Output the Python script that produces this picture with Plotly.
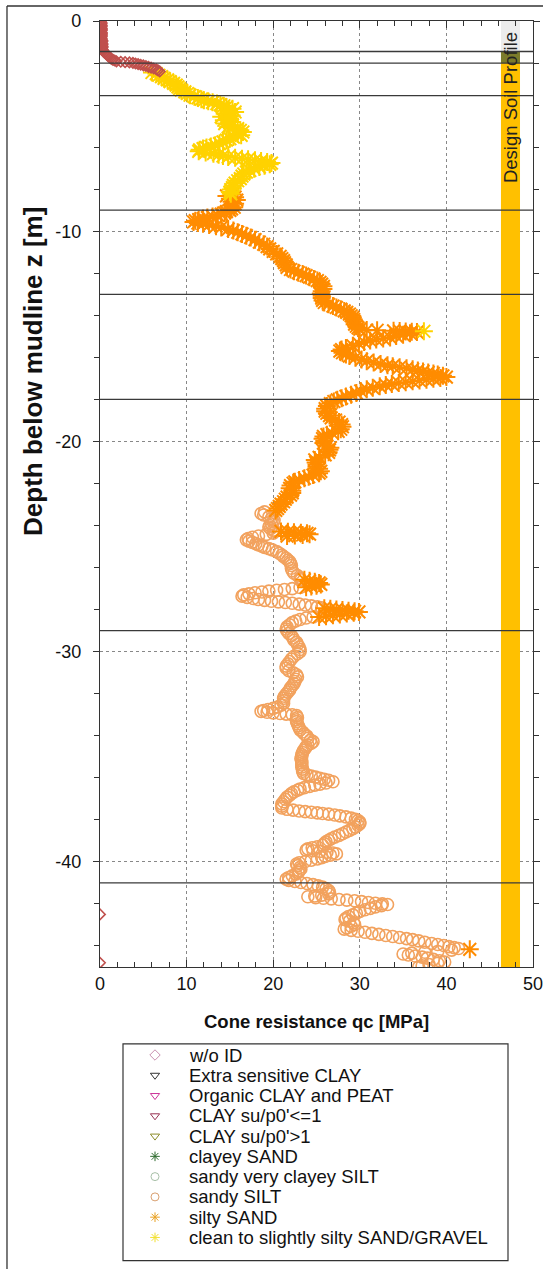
import plotly.graph_objects as go

FONT = "Arial, Liberation Sans, sans-serif"

# ---------------------------------------------------------------------------
# CPT record, split by soil behaviour class: (depth below mudline [m], qc [MPa])
# ---------------------------------------------------------------------------
wo_id = [
    (0.00, 0.1), (0.05, 0.1), (0.10, 0.2), (0.15, 0.1), (0.20, 0.2), (0.25, 0.2),
    (0.30, 0.1), (0.35, 0.2), (0.40, 0.2), (0.45, 0.2), (0.50, 0.1), (0.55, 0.2),
    (0.60, 0.2), (0.65, 0.2), (0.70, 0.2), (0.75, 0.2), (0.80, 0.1), (0.85, 0.2),
    (0.90, 0.2), (0.95, 0.3), (1.00, 0.2), (1.05, 0.2), (1.10, 0.3), (1.15, 0.2),
    (1.20, 0.3), (1.25, 0.3), (1.30, 0.2), (1.35, 0.3), (1.40, 0.3),
    (1.45, 0.4), (1.50, 0.5), (1.55, 0.7), (1.60, 0.8), (1.65, 0.9), (1.70, 1.0),
    (1.75, 1.2), (1.80, 1.3), (1.85, 1.5), (1.88, 1.7), (1.92, 1.9), (1.94, 2.4),
    (1.96, 2.9), (1.97, 3.4), (1.99, 3.8), (2.02, 4.1), (2.05, 4.4), (2.08, 4.7),
    (2.11, 5.0), (2.14, 5.3), (2.18, 5.6), (2.22, 5.9), (2.26, 6.2), (2.30, 6.5),
    (2.35, 6.7), (2.40, 6.9),
    (42.50, 0.0), (44.80, 0.0),
]

sand_gravel = [
    (2.45, 6.0), (2.50, 6.5), (2.58, 6.8), (2.65, 7.1), (2.73, 7.4), (2.80, 7.8),
    (2.88, 8.1), (2.97, 8.5), (3.05, 8.8), (3.13, 9.0), (3.21, 9.2), (3.29, 9.4),
    (3.37, 9.8), (3.45, 10.1), (3.53, 10.4), (3.60, 10.9), (3.66, 11.3), (3.72, 11.7),
    (3.77, 12.0), (3.82, 12.5), (3.87, 13.0), (3.93, 13.5), (3.98, 13.9), (4.03, 14.3),
    (4.09, 14.6), (4.17, 15.3), (4.25, 14.9), (4.33, 15.6), (4.41, 14.4), (4.49, 15.2),
    (4.56, 14.0), (4.64, 15.0), (4.72, 14.3), (4.80, 15.2), (4.88, 14.4), (4.96, 15.3),
    (5.04, 14.8), (5.12, 15.9), (5.20, 16.2), (5.28, 16.5), (5.36, 15.9), (5.44, 16.3),
    (5.52, 15.4), (5.60, 15.0), (5.67, 14.6), (5.75, 14.2), (5.83, 13.8), (5.91, 13.3),
    (5.97, 12.8), (6.02, 12.3), (6.07, 11.9), (6.13, 11.5), (6.20, 11.4), (6.25, 12.2),
    (6.31, 13.1), (6.36, 13.7), (6.42, 14.2), (6.47, 14.8), (6.51, 15.6), (6.55, 16.4),
    (6.58, 17.1), (6.62, 17.9), (6.66, 18.6), (6.71, 19.3), (6.76, 19.8), (6.82, 19.6),
    (6.88, 19.0), (6.95, 18.4), (7.03, 17.8), (7.11, 17.3), (7.19, 16.9), (7.28, 16.6),
    (7.38, 16.4), (7.50, 16.2), (7.60, 15.9), (7.71, 15.6), (7.82, 15.4), (7.92, 15.3),
    (8.02, 15.1), (8.14, 15.0), (8.22, 15.1),
    (14.76, 37.4),
]

silty_sand = [
    (8.25, 15.3), (8.32, 14.6), (8.38, 15.6), (8.45, 15.0), (8.52, 15.8), (8.60, 15.2),
    (8.69, 15.6), (8.78, 15.1), (8.86, 15.5), (8.94, 15.2), (9.01, 15.0), (9.07, 14.6),
    (9.13, 14.4), (9.19, 14.0), (9.25, 13.6), (9.30, 13.0), (9.35, 12.4), (9.40, 11.9),
    (9.45, 11.4), (9.50, 11.0), (9.56, 10.8), (9.61, 11.3), (9.65, 11.9), (9.70, 12.6),
    (9.76, 13.4), (9.82, 14.0), (9.90, 14.8), (9.97, 15.4), (10.05, 15.9), (10.13, 16.4),
    (10.21, 16.9), (10.30, 17.4), (10.40, 17.9), (10.52, 18.4), (10.62, 18.9), (10.73, 19.3),
    (10.84, 19.6), (10.96, 20.0), (11.08, 20.4), (11.20, 20.8), (11.30, 21.0), (11.40, 21.2),
    (11.50, 21.3), (11.60, 21.5), (11.72, 21.6), (11.82, 22.0), (11.90, 22.4), (11.97, 22.9),
    (12.04, 23.4), (12.11, 23.8), (12.19, 24.2), (12.27, 24.7), (12.35, 25.1), (12.43, 25.4),
    (12.52, 25.6), (12.62, 25.8), (12.75, 25.8), (12.85, 25.6), (12.96, 25.5), (13.07, 25.6),
    (13.18, 25.6), (13.29, 25.7), (13.39, 25.9), (13.48, 26.4), (13.56, 26.9), (13.63, 27.3),
    (13.71, 27.8), (13.79, 28.2), (13.86, 28.5), (13.94, 28.8), (14.02, 29.0), (14.10, 29.2),
    (14.20, 29.3), (14.30, 29.4), (14.42, 29.4), (14.52, 29.6), (14.60, 29.8), (14.66, 30.0),
    (14.70, 30.8), (14.71, 32.0), (14.74, 33.9), (14.75, 34.6), (14.77, 35.3), (14.78, 36.0),
    (14.80, 36.6), (14.85, 35.8), (14.92, 35.0), (14.98, 34.2), (15.05, 33.5), (15.10, 32.7),
    (15.15, 31.9), (15.20, 31.2), (15.27, 30.5), (15.35, 29.9), (15.45, 29.2), (15.55, 28.4),
    (15.63, 27.9), (15.70, 27.7), (15.78, 28.0), (15.86, 28.4), (15.94, 28.8), (16.02, 29.5),
    (16.10, 30.2), (16.18, 30.8), (16.25, 31.6), (16.32, 32.4), (16.38, 33.2), (16.42, 33.8),
    (16.47, 34.6), (16.52, 35.4), (16.57, 36.1), (16.62, 36.7), (16.67, 37.3), (16.72, 37.9),
    (16.77, 38.5), (16.82, 39.0), (16.88, 39.6), (16.94, 40.0), (16.98, 39.3), (17.02, 38.5),
    (17.06, 37.7), (17.10, 36.9), (17.14, 36.1), (17.18, 35.3), (17.22, 34.5), (17.27, 33.7),
    (17.32, 33.0), (17.38, 32.3), (17.45, 31.5), (17.52, 30.8), (17.60, 30.1), (17.69, 29.6),
    (17.78, 29.0), (17.86, 28.4), (17.94, 27.9), (18.02, 27.4), (18.10, 27.0), (18.20, 26.6),
    (18.32, 26.2), (18.44, 26.0), (18.56, 26.0), (18.66, 26.2), (18.77, 26.5), (18.88, 26.7),
    (18.98, 27.2), (19.08, 27.6), (19.20, 27.9), (19.30, 28.0), (19.42, 27.8), (19.52, 27.5),
    (19.60, 26.8), (19.68, 26.2), (19.76, 25.8), (19.87, 25.7), (19.98, 25.9), (20.08, 25.8),
    (20.18, 26.1), (20.30, 26.6), (20.40, 26.5), (20.52, 26.4), (20.64, 26.0), (20.76, 25.3),
    (20.88, 24.8), (21.00, 24.9), (21.10, 25.0), (21.20, 25.0), (21.30, 25.3), (21.42, 25.5),
    (21.51, 25.3), (21.60, 24.6), (21.68, 24.1), (21.75, 23.6), (21.83, 23.0), (21.92, 22.5),
    (21.99, 22.3), (22.10, 22.0), (22.23, 21.9), (22.35, 22.2), (22.45, 22.2), (22.55, 22.0),
    (22.65, 21.6), (22.75, 21.4), (22.87, 21.2), (22.98, 20.9), (23.09, 20.7), (23.19, 20.5),
    (23.28, 20.3),
    (24.28, 20.9), (24.30, 21.7), (24.32, 22.4), (24.34, 23.2), (24.37, 23.9), (24.41, 24.2),
    (24.45, 23.4), (24.48, 22.5), (24.50, 21.6),
    (26.58, 23.6), (26.63, 24.2), (26.68, 24.8), (26.73, 25.3), (26.80, 25.5), (26.86, 25.0),
    (26.90, 24.4), (26.94, 23.8),
    (27.93, 25.9), (27.96, 26.6), (27.99, 27.3), (28.02, 28.0), (28.05, 28.7), (28.08, 29.4),
    (28.11, 29.9), (28.15, 29.3), (28.19, 28.5), (28.23, 27.7), (28.27, 26.9), (28.31, 26.1),
    (28.35, 25.3),
    (44.16, 42.7),
]

sandy_silt = [
    (23.35, 19.0), (23.43, 18.6), (23.50, 18.9), (23.59, 19.5), (23.67, 19.8), (23.75, 20.1),
    (23.83, 20.0), (23.92, 19.8), (24.00, 19.6), (24.07, 19.5), (24.15, 19.7), (24.22, 20.0),
    (24.28, 20.2), (24.36, 20.0), (24.42, 19.2), (24.50, 18.3), (24.56, 17.6), (24.62, 17.1),
    (24.68, 16.9), (24.74, 17.2), (24.80, 17.6), (24.86, 18.0), (24.92, 18.3), (24.98, 18.7),
    (25.04, 19.0), (25.10, 19.5), (25.16, 19.9), (25.24, 20.4), (25.32, 20.7), (25.40, 21.0),
    (25.48, 21.2), (25.56, 21.5), (25.64, 21.7), (25.71, 21.9), (25.80, 22.0), (25.90, 22.1),
    (26.03, 22.1), (26.15, 22.2), (26.27, 22.4), (26.38, 22.8), (26.50, 23.1), (26.58, 23.2),
    (26.95, 23.1), (27.00, 22.2), (27.04, 21.3), (27.08, 20.4), (27.12, 19.5), (27.16, 18.7),
    (27.20, 17.9), (27.25, 17.2), (27.30, 16.6), (27.36, 16.4), (27.42, 17.0), (27.47, 17.7),
    (27.52, 18.3), (27.56, 19.0), (27.60, 19.8), (27.63, 20.6), (27.66, 21.4), (27.70, 22.2),
    (27.74, 23.0), (27.78, 23.7), (27.82, 24.4), (27.87, 25.1), (27.91, 25.6),
    (28.35, 24.6), (28.40, 23.8), (28.47, 23.1), (28.54, 22.6), (28.62, 22.2), (28.72, 21.9),
    (28.82, 21.6), (28.92, 21.5), (29.02, 21.6), (29.13, 21.8), (29.24, 22.1), (29.35, 22.3),
    (29.46, 22.4), (29.56, 22.7), (29.66, 22.8), (29.78, 23.0), (29.90, 23.1), (30.00, 23.1),
    (30.10, 22.8), (30.22, 22.4), (30.35, 22.1), (30.47, 21.9), (30.58, 21.7), (30.69, 21.5),
    (30.79, 21.5), (30.90, 21.8), (31.00, 22.3), (31.10, 22.7), (31.20, 22.8), (31.31, 22.6),
    (31.42, 22.5), (31.52, 22.4), (31.62, 22.2), (31.72, 22.0), (31.82, 21.9), (31.92, 21.7),
    (32.02, 21.5), (32.12, 21.3), (32.22, 21.2), (32.33, 21.2), (32.45, 21.2), (32.55, 20.9),
    (32.63, 20.5), (32.70, 20.0), (32.75, 19.4), (32.80, 18.9), (32.84, 18.6), (32.88, 19.3),
    (32.91, 20.0), (32.94, 20.8), (32.97, 21.5), (33.00, 22.2), (33.04, 22.7), (33.14, 22.8),
    (33.24, 22.7), (33.33, 22.7), (33.43, 22.8), (33.53, 22.9), (33.62, 23.0), (33.72, 23.1),
    (33.82, 23.4), (33.92, 23.6), (34.02, 23.9), (34.12, 24.0), (34.20, 24.3), (34.28, 24.6),
    (34.36, 24.4), (34.44, 24.0), (34.52, 23.8), (34.60, 23.7), (34.70, 23.5), (34.80, 23.4),
    (34.90, 23.3), (34.99, 23.3), (35.09, 23.2), (35.19, 23.3), (35.29, 23.3), (35.39, 23.3),
    (35.49, 23.3), (35.59, 23.4), (35.69, 23.4), (35.79, 23.5), (35.86, 23.9), (35.92, 24.4),
    (35.97, 24.9), (36.02, 25.4), (36.07, 25.9), (36.12, 26.4), (36.19, 26.9), (36.25, 26.1),
    (36.30, 25.4), (36.35, 24.8), (36.41, 24.2), (36.47, 23.6), (36.53, 23.1), (36.59, 22.8),
    (36.67, 22.4), (36.75, 22.1), (36.83, 21.9), (36.92, 21.6), (37.02, 21.4), (37.14, 21.2),
    (37.24, 21.0), (37.35, 21.0), (37.44, 21.0), (37.50, 21.6), (37.54, 22.3), (37.58, 23.0),
    (37.61, 23.7), (37.64, 24.4), (37.67, 25.1), (37.70, 25.7), (37.73, 26.4), (37.77, 27.1),
    (37.81, 27.7), (37.86, 28.4), (37.92, 29.0), (37.98, 29.5), (38.04, 29.8), (38.11, 30.0),
    (38.18, 30.0), (38.26, 29.8), (38.34, 29.5), (38.42, 29.2), (38.50, 28.8), (38.58, 28.4),
    (38.66, 28.0), (38.74, 27.6), (38.82, 27.1), (38.90, 26.7), (38.97, 26.4), (39.05, 26.1),
    (39.13, 25.9), (39.21, 25.7), (39.28, 25.1), (39.33, 24.5), (39.38, 24.0), (39.44, 23.8),
    (39.47, 24.6), (39.50, 25.4), (39.54, 26.2), (39.58, 26.9), (39.62, 27.3), (39.68, 26.6),
    (39.74, 26.0), (39.80, 25.6), (39.86, 25.1), (39.92, 24.4), (39.98, 23.7), (40.04, 23.0),
    (40.10, 22.7), (40.18, 22.8), (40.26, 23.1), (40.34, 23.2), (40.42, 23.0), (40.50, 22.9),
    (40.58, 22.6), (40.66, 22.2), (40.74, 21.8), (40.82, 21.5), (40.88, 21.8), (40.93, 22.5),
    (40.98, 23.2), (41.03, 23.9), (41.08, 24.6), (41.14, 25.2), (41.20, 25.7), (41.28, 26.1),
    (41.36, 26.4), (41.44, 26.5), (41.52, 26.4), (41.58, 25.6), (41.62, 24.8), (41.66, 24.0),
    (41.70, 24.9), (41.73, 25.8), (41.76, 26.7), (41.79, 27.6), (41.82, 28.5), (41.85, 29.4),
    (41.89, 30.2), (41.93, 31.0), (41.97, 31.8), (42.00, 32.6), (42.03, 33.2), (42.08, 32.5),
    (42.14, 31.8), (42.21, 31.2), (42.28, 30.6), (42.36, 30.0), (42.44, 29.6), (42.52, 29.2),
    (42.60, 28.7), (42.68, 28.4), (42.75, 28.3), (42.82, 28.8), (42.90, 29.3), (42.98, 29.4),
    (43.06, 29.0), (43.14, 28.5), (43.20, 28.2), (43.26, 29.0), (43.30, 29.8), (43.35, 30.6),
    (43.40, 31.4), (43.45, 32.2), (43.50, 33.0), (43.55, 33.8), (43.60, 34.6), (43.65, 35.4),
    (43.70, 36.1), (43.76, 36.8), (43.82, 37.5), (43.88, 38.3), (43.93, 39.0), (43.98, 39.7),
    (44.03, 40.3), (44.08, 40.9), (44.12, 41.4), (44.20, 40.6), (44.26, 39.0), (44.30, 37.5),
    (44.34, 36.0), (44.38, 35.0), (44.43, 35.6), (44.48, 36.4), (44.53, 37.2), (44.58, 37.8),
    (44.64, 38.5), (44.70, 39.2), (44.76, 39.8), (44.82, 39.0), (44.88, 38.0), (44.94, 37.2),
    (45.00, 36.8),
]

# Layer boundaries of the design soil profile [m]
layer_boundaries = [1.45, 2.0, 3.55, 9.0, 13.0, 18.0, 29.0, 41.0]

# Design soil profile column: layer top / bottom depths [m]
profile_top = [0.0, 1.45, 2.0]
profile_bottom = [1.45, 2.0, 45.0]

# Axis labels
qc_ticks = [0, 10, 20, 30, 40, 50]
qc_tick_labels = ["0", "10", "20", "30", "40", "50"]
depth_ticks = [0, -10, -20, -30, -40]
depth_tick_labels = ["0", "-10", "-20", "-30", "-40"]

# Soil behaviour classes shown in the key
classes = [
    "w/o ID",
    "Extra sensitive CLAY",
    "Organic CLAY and PEAT",
    "CLAY su/p0'<=1",
    "CLAY su/p0'>1",
    "clayey SAND",
    "sandy very clayey SILT",
    "sandy SILT",
    "silty SAND",
    "clean to slightly silty SAND/GRAVEL",
]

# ---------------------------------------------------------------------------
# Styles
# ---------------------------------------------------------------------------
class_symbols = ["diamond-open", "triangle-down-open", "triangle-down-open",
                 "triangle-down-open", "triangle-down-open", "asterisk-open",
                 "circle-open", "circle-open", "asterisk-open", "asterisk-open"]
class_key_colors = ["#c98fb0", "#333333", "#cc3399", "#993355", "#8c8c2a",
                    "#2e6b2e", "#a8c0a8", "#d9a070", "#e8a020", "#f2e030"]
profile_colors = ["#ececec", "#7b7b2b", "#ffc000"]
PROFILE_X = 47.4
PROFILE_W = 2.2

fig = go.Figure()


def add_series(points, symbol, color, size, lw):
    fig.add_trace(go.Scatter(
        x=[q for _, q in points], y=[-d for d, _ in points],
        mode="markers", showlegend=False, hoverinfo="skip",
        marker=dict(symbol=symbol, size=size, color=color,
                    line=dict(color=color, width=lw)),
        xaxis="x", yaxis="y",
    ))


# design soil profile column
fig.add_trace(go.Bar(
    x=[PROFILE_X] * len(profile_top),
    y=[-(b - t) for t, b in zip(profile_top, profile_bottom)],
    base=[-t for t in profile_top],
    width=[PROFILE_W] * len(profile_top),
    marker=dict(color=profile_colors, line=dict(width=0)),
    showlegend=False, hoverinfo="skip", xaxis="x", yaxis="y",
))

add_series(sandy_silt, "circle-open", "#f2a25e", 12, 1.6)
add_series(silty_sand, "asterisk-open", "#ff8c00", 15, 2.0)
add_series(sand_gravel, "asterisk-open", "#ffd200", 15, 2.0)
add_series(wo_id, "diamond-open", "#c0504d", 8, 1.6)

# key symbols, one row per class
rows = list(range(len(classes)))
fig.add_trace(go.Scatter(
    x=[155] * len(classes), y=rows, mode="markers",
    marker=dict(symbol=class_symbols, size=8, color=class_key_colors,
                line=dict(color=class_key_colors, width=1)),
    showlegend=False, hoverinfo="skip", xaxis="x2", yaxis="y2",
))

annotations = [
    dict(x=187, y=r, xref="x2", yref="y2", text=name, showarrow=False,
         xanchor="left", yanchor="middle", font=dict(family=FONT, size=18.5, color="#111"))
    for r, name in zip(rows, classes)
]
annotations += [
    dict(x=PROFILE_X, y=-4.12, xref="x", yref="y", text="Design Soil Profile",
         textangle=-90, showarrow=False, xanchor="center", yanchor="middle",
         font=dict(family=FONT, size=18.5, color="#222")),
    dict(x=0.5, y=0.198, xref="paper", yref="paper", text="<b>Cone resistance qc [MPa]</b>",
         showarrow=False, xanchor="center", yanchor="middle",
         font=dict(family=FONT, size=18.5, color="#111")),
    dict(x=-0.1547, y=0.7188, xref="paper", yref="paper", text="<b>Depth below mudline z [m]</b>",
         textangle=-90, showarrow=False, xanchor="center", yanchor="middle",
         font=dict(family=FONT, size=26, color="#111")),
]

shapes = [
    dict(type="line", xref="x", yref="y", x0=0, x1=50, y0=-d, y1=-d,
         line=dict(color="#3a3a3a", width=1.3), layer="above")
    for d in layer_boundaries
]
shapes += [
    # key frame
    dict(type="rect", xref="x2", yref="y2", x0=123, x1=508, y0=-0.544, y1=10.14,
         line=dict(color="#333", width=1.2), fillcolor="rgba(0,0,0,0)"),
    # outer frame (top and left edges)
    dict(type="line", xref="paper", yref="paper", x0=-0.2148, x1=1.0231, y0=1.012, y1=1.012,
         line=dict(color="#333", width=1.3)),
    dict(type="line", xref="paper", yref="paper", x0=-0.2148, x1=-0.2148, y0=0, y1=1.012,
         line=dict(color="#333", width=1.3)),
]

axis_common = dict(
    showline=True, linecolor="#333", linewidth=1.3, mirror="ticks",
    tickcolor="#333", tickwidth=1, showgrid=True, gridcolor="#888",
    griddash="dot", gridwidth=1, zeroline=False, tickmode="array",
    tickfont=dict(family=FONT, size=18, color="#111"),
)

fig.update_layout(
    width=553, height=1269,
    margin=dict(l=100, r=20, t=21, b=0),
    paper_bgcolor="white", plot_bgcolor="white",
    showlegend=False,
    font=dict(family=FONT, size=18, color="#111"),
    xaxis=dict(domain=[0, 1], range=[0, 50], tickvals=qc_ticks, ticktext=qc_tick_labels,
               ticks="inside", ticklen=7,
               minor=dict(tickmode="array", tickvals=list(range(0, 51, 2)), ticks="inside",
                          ticklen=5, tickcolor="#333", showgrid=False),
               anchor="y", **axis_common),
    yaxis=dict(domain=[0.242, 1], range=[-45, 0], tickvals=depth_ticks, ticktext=depth_tick_labels,
               ticks="outside", ticklen=6, ticklabelstandoff=8,
               minor=dict(tickmode="array", tickvals=list(range(-44, 1, 2)), ticks="outside",
                          ticklen=5, tickcolor="#333", showgrid=False),
               anchor="x", **axis_common),
    xaxis2=dict(domain=[0, 1], range=[100, 533], visible=False, anchor="y2"),
    yaxis2=dict(domain=[0, 0.2], range=[10.557, -1.756], visible=False, anchor="x2"),
    annotations=annotations,
    shapes=shapes,
)

fig.write_html("out.html")
